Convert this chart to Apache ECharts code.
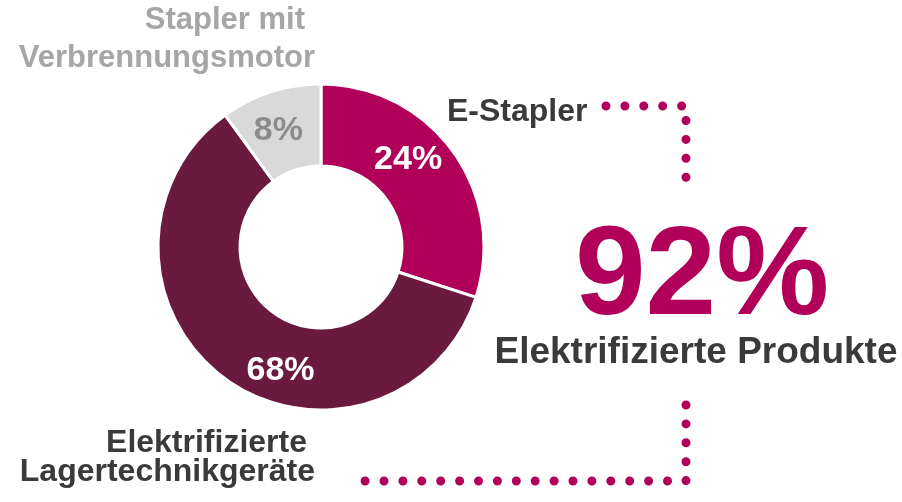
<!DOCTYPE html>
<html>
<head>
<meta charset="utf-8">
<script src="https://cdn.jsdelivr.net/npm/echarts@6/dist/echarts.min.js"></script>
<style>
  html, body { margin: 0; padding: 0; background: #fff; }
  #chart { width: 902px; height: 502px; }
</style>
</head>
<body>
<div id="chart"></div>
<script>
// slice sizes as drawn in the picture (angles), and the printed labels
const categories = ['E-Stapler', 'Elektrifizierte Lagertechnikgeräte', 'Stapler mit Verbrennungsmotor']
const sliceShare = [30, 60, 10]
const sliceLabels = ['24%', '68%', '8%']
const totalLabel = '92%'
const totalCaption = 'Elektrifizierte Produkte'

const colors = ['#B0005A', '#6B1A3F', '#D9D9D9']
const labelColors = ['#fff', '#fff', '#8C8C8C']
const font = '"Liberation Sans", Arial, sans-serif'
// shift of the inside labels from the slice mid point
const labelShift = [[-14, -14], [33, 22], [-4, 3]]

const chart = echarts.init(document.getElementById('chart'))

const text = (t, x, y, align, size, color) => ({
  type: 'text',
  x: x,
  y: y,
  style: {
    text: t,
    fill: color,
    font: `bold ${size}px ${font}`,
    textAlign: align,
    textVerticalAlign: 'middle',
  },
})

const dots = points => ({
  type: 'polyline',
  shape: { points: points },
  style: {
    stroke: '#B0005A',
    lineWidth: 9,
    lineCap: 'round',
    lineDash: [0, 18.9],
    fill: null,
  },
})

const option = {
  backgroundColor: '#fff',
  animation: false,
  series: [
    {
      type: 'pie',
      center: [321, 247],
      radius: [81, 163],
      startAngle: 90,
      clockwise: true,
      avoidLabelOverlap: false,
      labelLine: { show: false },
      itemStyle: { borderColor: '#fff', borderWidth: 3 },
      label: {
        show: true,
        position: 'inside',
        fontFamily: font,
        fontWeight: 'bold',
        fontSize: 34,
      },
      labelLayout: params => ({
        dx: labelShift[params.dataIndex][0],
        dy: labelShift[params.dataIndex][1],
      }),
      data: categories.map((name, i) => ({
        name: name,
        value: sliceShare[i],
        itemStyle: { color: colors[i] },
        label: { formatter: sliceLabels[i], color: labelColors[i] },
      })),
    },
  ],
  graphic: [
    dots([[606, 106], [686, 106], [686, 180]]),
    dots([[686, 405], [686, 481], [364, 481]]),
    text('Stapler mit', 305, 20, 'right', 31, '#A6A6A6'),
    text('Verbrennungsmotor', 315, 58, 'right', 31, '#A6A6A6'),
    text(categories[0], 447, 112, 'left', 32, '#3A3A3A'),
    text('Elektrifizierte', 307, 443, 'right', 32, '#3A3A3A'),
    text('Lagertechnikgeräte', 315, 472, 'right', 32, '#3A3A3A'),
    text(totalLabel, 702, 279, 'center', 127, '#B0005A'),
    text(totalCaption, 696, 353, 'center', 37, '#3A3A3A'),
  ],
}

chart.setOption(option)
</script>
</body>
</html>
